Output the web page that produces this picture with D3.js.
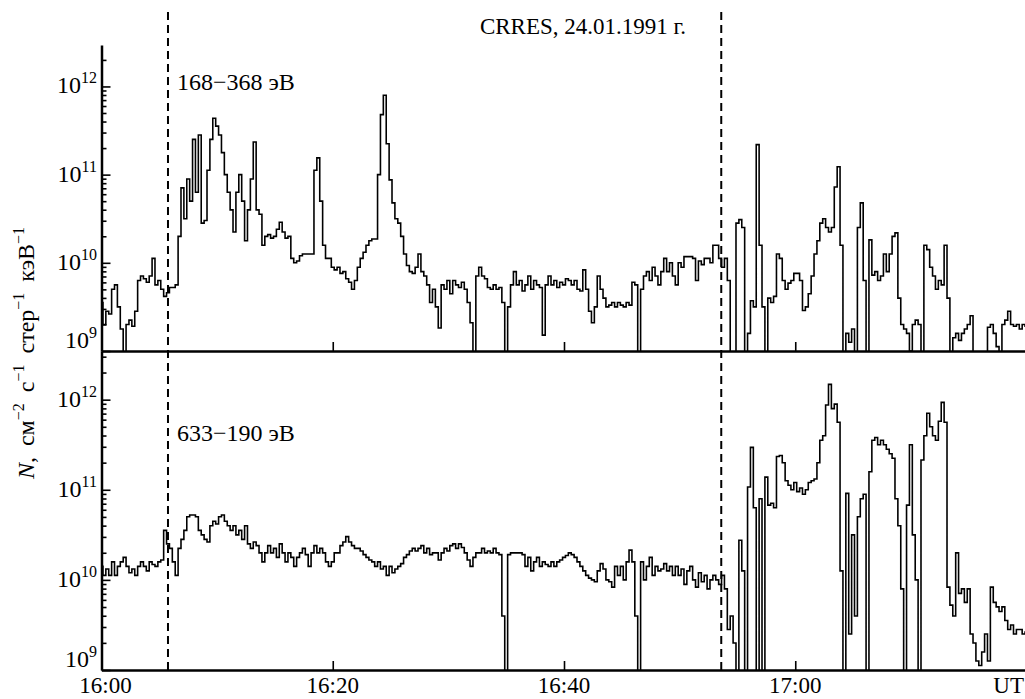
<!DOCTYPE html>
<html>
<head>
<meta charset="utf-8">
<script src="https://cdn.jsdelivr.net/npm/d3@7"></script>
<style>
	body { margin: 0; background: #fff; }
	svg { display: block; font-family: "Liberation Serif", "Times New Roman", serif; }
	.axis path, .axis line { stroke: #000; }
	.axis path { stroke-width: 2.5; }
	.axis line { stroke-width: 1.6; }
	.curve { fill: none; stroke: #000; stroke-width: 1.6; stroke-linejoin: miter; }
	.event { stroke: #000; stroke-width: 2; stroke-dasharray: 8 5; }
	text { fill: #000; }
</style>
</head>
<body>
<svg id="chart"></svg>
<script>
const WIDTH = 1025;
const HEIGHT = 699;

// minutes after 16:00 UT, one sample every 15 s
const SAMPLE_STEP = 0.25;

// log10 of N, 168-368 eV channel (upper panel)
const fluxLogUpper = [
	9.55, 9.3, 9.45, 9.42, 9.7, 9.75, 9.5, 9.25, 8.95, 9.3, 9.35, 9.28, 9.45, 9.8, 9.85, 9.82, 9.78, 9.85, 10.05, 9.75,
	9.8, 9.7, 9.62, 9.66, 9.72, 9.72, 9.75, 10.3, 10.85, 10.5, 10.95, 10.7, 11.4, 10.8, 11.45, 10.45, 10.48, 11.05, 11.4, 11.64,
	11.55, 11.45, 11.25, 11.0, 10.8, 10.6, 10.35, 10.8, 11.0, 10.7, 10.25, 10.6, 10.95, 11.37, 10.6, 10.55, 10.2, 10.3, 10.32, 10.28,
	10.3, 10.38, 10.46, 10.35, 10.28, 10.3, 10.05, 10.0, 10.02, 10.08, 10.1, 10.1, 10.1, 10.1, 11.05, 11.19, 10.7, 10.2, 10.05, 10.05,
	9.95, 9.92, 9.95, 9.88, 9.9, 9.82, 9.78, 9.7, 9.8, 9.95, 10.05, 10.12, 10.2, 10.25, 10.27, 10.27, 11.0, 11.68, 11.9, 11.35,
	10.94, 10.68, 10.5, 10.45, 10.3, 10.1, 9.97, 9.9, 9.88, 9.95, 10.1, 9.9, 9.85, 9.75, 9.55, 9.7, 9.5, 9.26, 9.75, 9.7,
	9.8, 9.65, 9.8, 9.75, 9.72, 9.78, 9.7, 9.55, 9.32, 8.9, 9.85, 9.95, 9.85, 9.82, 9.72, 9.7, 9.75, 9.7, 9.72, 9.55,
	8.9, 9.5, 9.75, 9.9, 9.75, 9.8, 9.68, 9.75, 9.85, 9.7, 9.8, 9.75, 9.72, 9.18, 9.75, 9.85, 9.75, 9.8, 9.72, 9.78,
	9.75, 9.82, 9.8, 9.75, 9.8, 9.7, 9.68, 9.92, 9.7, 9.45, 9.32, 9.5, 9.85, 9.7, 9.6, 9.5, 9.52, 9.55, 9.5, 9.55,
	9.52, 9.5, 9.55, 9.52, 9.78, 9.75, 8.9, 9.7, 9.85, 9.9, 9.8, 9.95, 9.85, 9.75, 9.9, 10.05, 9.9, 10.0, 9.85, 9.75,
	10.0, 9.95, 10.07, 10.07, 10.07, 10.05, 9.8, 10.02, 9.98, 10.05, 10.05, 10.0, 10.2, 10.2, 10.05, 9.95, 10.05, 9.8, 8.9, 8.9,
	10.45, 10.49, 10.4, 8.9, 9.2, 9.57, 9.5, 11.34, 10.2, 9.5, 8.9, 9.6, 9.55, 9.62, 10.1, 10.05, 9.8, 9.7, 9.77, 9.8,
	9.88, 9.88, 9.8, 9.46, 9.5, 9.65, 9.85, 10.1, 10.25, 10.45, 10.5, 10.4, 10.35, 10.4, 10.86, 11.09, 10.2, 8.9, 9.2, 9.1,
	9.25, 8.9, 10.4, 10.68, 9.8, 8.9, 10.26, 9.86, 9.9, 9.8, 9.85, 10.1, 9.9, 10.1, 10.3, 10.34, 9.6, 9.3, 9.25, 9.2,
	9.0, 9.3, 9.35, 9.3, 8.9, 10.2, 10.15, 9.95, 9.85, 9.7, 9.8, 9.75, 10.2, 9.6, 8.9, 9.15, 9.2, 9.12, 9.2, 9.25,
	9.3, 9.4, 8.9, 8.9, 8.9, 8.9, 8.9, 9.27, 9.3, 9.2, 9.05, 8.95, 9.3, 9.35, 9.45, 9.3, 9.28, 9.3, 9.25, 9.3,
	9.28,
];

// log10 of N, 633-190 eV channel (lower panel)
const fluxLogLower = [
	10.15, 10.05, 10.12, 10.05, 10.2, 10.05, 10.15, 10.2, 10.25, 10.15, 10.08, 10.12, 10.05, 10.15, 10.2, 10.15, 10.1, 10.2, 10.17, 10.15,
	10.2, 10.22, 10.55, 10.4, 10.35, 10.2, 10.05, 10.35, 10.45, 10.55, 10.7, 10.72, 10.72, 10.7, 10.55, 10.5, 10.45, 10.42, 10.6, 10.65,
	10.62, 10.7, 10.72, 10.65, 10.6, 10.55, 10.6, 10.5, 10.55, 10.45, 10.6, 10.4, 10.35, 10.42, 10.38, 10.3, 10.2, 10.3, 10.38, 10.3,
	10.35, 10.25, 10.4, 10.3, 10.2, 10.3, 10.25, 10.15, 10.25, 10.3, 10.35, 10.28, 10.15, 10.3, 10.38, 10.3, 10.35, 10.3, 10.2, 10.15,
	10.2, 10.3, 10.3, 10.38, 10.42, 10.48, 10.42, 10.38, 10.35, 10.35, 10.32, 10.28, 10.25, 10.22, 10.2, 10.15, 10.2, 10.12, 10.15, 10.05,
	10.15, 10.08, 10.12, 10.15, 10.18, 10.25, 10.28, 10.32, 10.35, 10.32, 10.35, 10.38, 10.3, 10.35, 10.28, 10.3, 10.3, 10.22, 10.3, 10.35,
	10.32, 10.38, 10.4, 10.35, 10.4, 10.36, 10.3, 10.22, 10.15, 10.25, 10.3, 10.3, 10.35, 10.3, 10.32, 10.3, 10.35, 10.3, 10.28, 9.6,
	8.9, 10.28, 10.3, 10.3, 10.3, 10.3, 10.28, 10.15, 10.25, 10.1, 10.2, 10.25, 10.15, 10.2, 10.17, 10.15, 10.2, 10.15, 10.2, 10.22,
	10.25, 10.27, 10.3, 10.28, 10.25, 10.2, 10.15, 10.1, 10.05, 10.02, 10.0, 9.98, 10.1, 10.18, 10.12, 10.0, 9.98, 9.92, 10.15, 10.05,
	10.15, 10.0, 10.2, 10.33, 10.2, 9.6, 8.9, 10.2, 10.0, 10.15, 10.25, 10.05, 10.15, 10.1, 10.12, 10.18, 10.1, 10.15, 10.05, 10.15,
	10.05, 10.12, 9.95, 10.1, 10.15, 10.0, 9.92, 10.08, 9.98, 10.05, 9.9, 10.0, 10.05, 10.0, 9.95, 10.05, 9.9, 9.45, 9.6, 9.3,
	8.9, 10.44, 10.1, 8.9, 11.03, 11.47, 10.8, 8.9, 10.9, 8.9, 11.14, 10.83, 10.85, 10.8, 11.37, 11.38, 11.3, 11.1, 11.05, 11.0,
	11.08, 10.98, 11.02, 10.95, 11.0, 11.08, 11.1, 11.12, 11.3, 11.55, 11.6, 11.94, 12.17, 11.9, 11.95, 11.75, 10.1, 8.9, 10.96, 9.4,
	10.5, 9.6, 10.7, 10.9, 10.95, 8.9, 11.2, 11.55, 11.58, 11.5, 11.55, 11.5, 11.45, 11.4, 11.35, 10.9, 10.6, 9.9, 8.9, 10.83,
	11.5, 10.5, 10.0, 8.9, 11.33, 11.6, 11.85, 11.7, 11.6, 11.55, 11.76, 11.97, 11.75, 9.92, 9.72, 9.6, 10.3, 9.85, 9.9, 9.75,
	9.9, 9.4, 9.3, 9.1, 9.05, 9.2, 9.4, 9.1, 9.92, 9.75, 9.7, 9.65, 9.7, 9.55, 9.45, 9.5, 9.4, 9.45, 9.45, 9.4,
	9.42,
];

const panelLabels = ["168\u2212368 эВ", "633\u2212190 эВ"];
const eventMinutes = [5.75, 53.6];
const xTickMinutes = [0, 20, 40, 60];
const xTickLabels = ["16:00", "16:20", "16:40", "17:00"];
const yTickExponents = [9, 10, 11, 12];
const titleText = "CRRES, 24.01.1991 г.";

const svg = d3.select("#chart").attr("width", WIDTH).attr("height", HEIGHT);

const x = d3.scaleLinear([0, 80], [101.5, 1026.5]);
const panels = [
	{ values: fluxLogUpper, label: panelLabels[0], y: d3.scaleLog([1e9, 10 ** 12.47], [351, 45]), labelY: 90 },
	{ values: fluxLogLower, label: panelLabels[1], y: d3.scaleLog([1e9, 10 ** 12.54], [670, 351]), labelY: 441 },
];

function minorTicks(scale) {
	const [lo, hi] = scale.domain();
	const ticks = [];
	for (let e = 9; e <= 12; e++) {
		for (let k = 2; k <= 9; k++) {
			const v = k * 10 ** e;
			if (v > lo && v <= hi) ticks.push(v);
		}
	}
	return ticks;
}

panels.forEach((p, i) => {
	const [yBottom, yTop] = p.y.range();
	const clipId = `clip-${i}`;
	svg.append("clipPath").attr("id", clipId)
		.append("rect")
		.attr("x", x(0)).attr("y", yTop)
		.attr("width", x(80) - x(0)).attr("height", yBottom - yTop);

	const points = p.values.map((v, j) => [j * SAMPLE_STEP, 10 ** v]);
	const line = d3.line()
		.x(d => x(d[0]))
		.y(d => p.y(Math.max(d[1], 10 ** 8.8)))
		.curve(d3.curveStep);
	svg.append("path")
		.attr("class", "curve")
		.attr("clip-path", `url(#${clipId})`)
		.attr("d", line(points));

	// y axis, major and minor ticks pointing inward
	svg.append("g")
		.attr("class", "axis")
		.attr("transform", `translate(${x(0)},0)`)
		.call(d3.axisLeft(p.y).tickValues(yTickExponents.map(e => 10 ** e)).tickSize(-9).tickSizeOuter(0).tickFormat(""));
	svg.append("g")
		.attr("class", "axis")
		.attr("transform", `translate(${x(0)},0)`)
		.call(d3.axisLeft(p.y).tickValues(minorTicks(p.y)).tickSize(-5).tickSizeOuter(0).tickFormat(""))
		.select(".domain").remove();

	// x axis along the bottom of each panel
	svg.append("g")
		.attr("class", "axis")
		.attr("transform", `translate(0,${yBottom})`)
		.call(d3.axisBottom(x).tickValues(xTickMinutes.slice(1)).tickSize(-9).tickSizeOuter(0).tickFormat(""));

	// y tick labels 10^n
	yTickExponents.forEach(e => {
		const ty = Math.min(p.y(10 ** e) + 7, yBottom - 3);
		const t = svg.append("text")
			.attr("x", 97)
			.attr("y", ty)
			.attr("text-anchor", "end")
			.attr("font-size", 24)
			.text("10");
		t.append("tspan").attr("font-size", 16).attr("dy", -10).text(e);
	});

	svg.append("text")
		.attr("x", 177)
		.attr("y", p.labelY)
		.attr("font-size", 24)
		.text(p.label);
});

// dashed event markers spanning both panels
svg.selectAll(".event")
	.data(eventMinutes)
	.join("line")
	.attr("class", "event")
	.attr("x1", d => x(d)).attr("x2", d => x(d))
	.attr("y1", 12).attr("y2", 674);

// time labels
svg.selectAll(".x-label")
	.data(xTickMinutes)
	.join("text")
	.attr("class", "x-label")
	.attr("x", d => x(d) + (d === 0 ? 4 : 0))
	.attr("y", 693)
	.attr("text-anchor", "middle")
	.attr("font-size", 23)
	.text((d, i) => xTickLabels[i]);
svg.append("text")
	.attr("x", 1024)
	.attr("y", 693)
	.attr("text-anchor", "end")
	.attr("font-size", 23)
	.text("UT");

svg.append("text")
	.attr("x", 583)
	.attr("y", 34)
	.attr("text-anchor", "middle")
	.attr("font-size", 23)
	.text(titleText);

// rotated y-axis title
const yTitle = svg.append("text")
	.attr("transform", "translate(34,353) rotate(-90)")
	.attr("text-anchor", "middle")
	.attr("font-size", 24)
	.attr("word-spacing", 5);
yTitle.append("tspan").attr("font-style", "italic").text("N");
yTitle.append("tspan").text(", см");
yTitle.append("tspan").attr("font-size", 16).attr("dy", -10).text("\u22122");
yTitle.append("tspan").attr("dy", 10).text(" с");
yTitle.append("tspan").attr("font-size", 16).attr("dy", -10).text("\u22121");
yTitle.append("tspan").attr("dy", 10).text(" стер");
yTitle.append("tspan").attr("font-size", 16).attr("dy", -10).text("\u22121");
yTitle.append("tspan").attr("dy", 10).text(" кэВ");
yTitle.append("tspan").attr("font-size", 16).attr("dy", -10).text("\u22121");
</script>
</body>
</html>
